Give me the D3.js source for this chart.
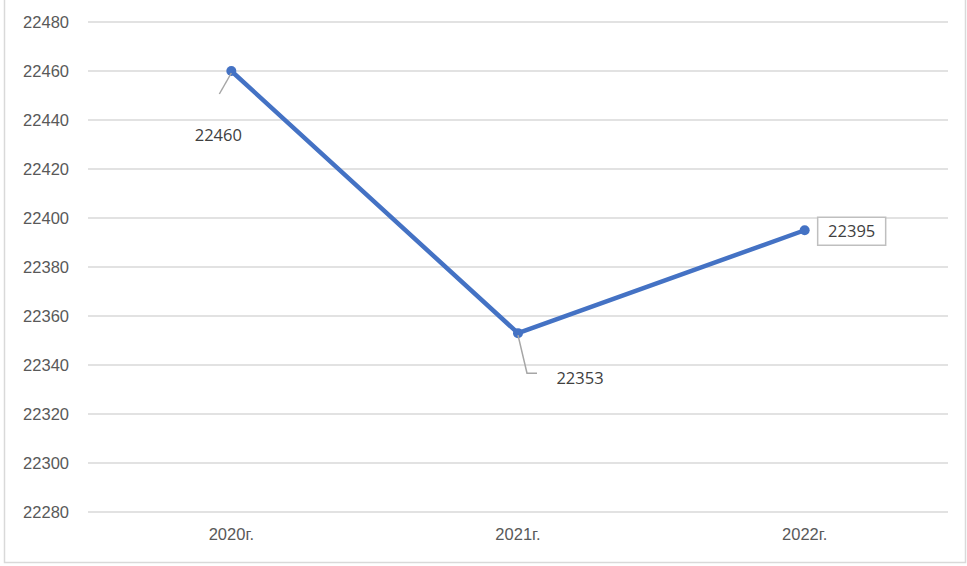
<!DOCTYPE html>
<html>
<head>
<meta charset="utf-8">
<script src="https://cdn.jsdelivr.net/npm/d3@7"></script>
<style>
  body { margin: 0; background: #fff; }
  svg { display: block; font-family: "Open Sans", "Liberation Sans", sans-serif; }
</style>
</head>
<body>
<div id="chart"></div>
<script>
const years = ["2020г.", "2021г.", "2022г."];
const values = [22460, 22353, 22395];
const yTicks = [22280, 22300, 22320, 22340, 22360, 22380, 22400, 22420, 22440, 22460, 22480];

const width = 967, height = 566;
const margin = { top: 22, right: 19, bottom: 54, left: 88 };
const fontSize = 16.5;

const svg = d3.select("#chart").append("svg")
  .attr("width", width)
  .attr("height", height);

// outer chart border
svg.append("rect")
  .attr("x", 4.5).attr("y", -2)
  .attr("width", width - 6).attr("height", height - 1.5)
  .attr("fill", "none")
  .attr("stroke", "#d9d9d9")
  .attr("stroke-width", 1.5);

const x = d3.scaleBand()
  .domain(years)
  .range([margin.left, width - margin.right]);

const y = d3.scaleLinear()
  .domain([22280, 22480])
  .range([height - margin.bottom, margin.top]);

// gridlines
svg.append("g")
  .selectAll("line")
  .data(yTicks)
  .join("line")
  .attr("x1", margin.left)
  .attr("x2", width - margin.right)
  .attr("y1", (d) => y(d))
  .attr("y2", (d) => y(d))
  .attr("stroke", "#d9d9d9")
  .attr("stroke-width", 1.5);

// y axis
const yAxis = svg.append("g")
  .attr("transform", `translate(${margin.left},0)`)
  .call(d3.axisLeft(y).tickValues(yTicks).tickSize(0).tickPadding(19).tickFormat(d3.format("d")));
yAxis.select(".domain").remove();
yAxis.selectAll("text").attr("fill", "#595959").attr("font-size", fontSize);

// x axis
const xAxis = svg.append("g")
  .attr("transform", `translate(0,${height - margin.bottom})`)
  .call(d3.axisBottom(x).tickSize(0).tickPadding(16));
xAxis.select(".domain").remove();
xAxis.selectAll("text").attr("fill", "#595959").attr("font-size", fontSize);

const cx = (i) => x(years[i]) + x.bandwidth() / 2;

// line
const line = d3.line()
  .x((d, i) => cx(i))
  .y((d) => y(d));

svg.append("path")
  .datum(values)
  .attr("d", line)
  .attr("fill", "none")
  .attr("stroke", "#4472c4")
  .attr("stroke-width", 4.5)
  .attr("stroke-linejoin", "round");

svg.append("g")
  .selectAll("circle")
  .data(values)
  .join("circle")
  .attr("cx", (d, i) => cx(i))
  .attr("cy", (d) => y(d))
  .attr("r", 5)
  .attr("fill", "#4472c4");

// data labels with leader lines
const leader = svg.append("g")
  .attr("fill", "none")
  .attr("stroke", "#a6a6a6")
  .attr("stroke-width", 1.5);

// 2020
leader.append("path")
  .attr("d", `M${cx(0)},${y(values[0]) + 2} L${cx(0) - 12},${y(values[0]) + 23}`);
svg.append("text")
  .attr("x", cx(0) - 13)
  .attr("y", y(values[0]) + 70)
  .attr("text-anchor", "middle")
  .attr("fill", "#404040")
  .attr("font-size", fontSize)
  .text(values[0]);

// 2021
leader.append("path")
  .attr("d", `M${cx(1)},${y(values[1]) + 2} L${cx(1) + 9},${y(values[1]) + 40} L${cx(1) + 19},${y(values[1]) + 40}`);
svg.append("text")
  .attr("x", cx(1) + 62)
  .attr("y", y(values[1]) + 51)
  .attr("text-anchor", "middle")
  .attr("fill", "#404040")
  .attr("font-size", fontSize)
  .text(values[1]);

// 2022 boxed label
const lx = cx(2) + 47, ly = y(values[2]) + 1;
svg.append("rect")
  .attr("x", lx - 34).attr("y", ly - 14)
  .attr("width", 68).attr("height", 28)
  .attr("fill", "#fff")
  .attr("stroke", "#bfbfbf")
  .attr("stroke-width", 1.5);
svg.append("text")
  .attr("x", lx)
  .attr("y", ly + 6)
  .attr("text-anchor", "middle")
  .attr("fill", "#404040")
  .attr("font-size", fontSize)
  .text(values[2]);
</script>
</body>
</html>
